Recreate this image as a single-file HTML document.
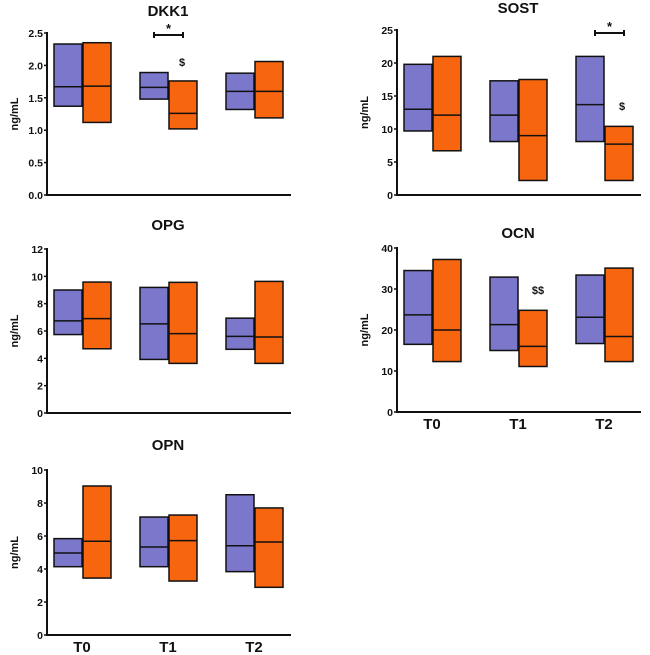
<!DOCTYPE html>
<html><head><meta charset="utf-8"><style>
body{margin:0;background:#fff}
svg{display:block;font-family:"Liberation Sans",Arial,sans-serif;font-weight:bold}
</style></head><body>
<svg id="c" width="650" height="655" viewBox="0 0 650 655" xmlns="http://www.w3.org/2000/svg"></svg>
<script>
const groups = ["T0","T1","T2"];
const dkk1P = [[1.37,1.67,2.33],[1.48,1.66,1.89],[1.32,1.60,1.88]];
const dkk1O = [[1.12,1.68,2.35],[1.02,1.26,1.76],[1.19,1.60,2.06]];
const dkk1Ticks = ["0.0","0.5","1.0","1.5","2.0","2.5"];
const sostP = [[9.7,13.0,19.8],[8.1,12.1,17.3],[8.1,13.7,21.0]];
const sostO = [[6.7,12.1,21.0],[2.2,9.0,17.5],[2.2,7.7,10.4]];
const sostTicks = ["0","5","10","15","20","25"];
const opgP = [[5.74,6.74,9.0],[3.92,6.52,9.19],[4.66,5.61,6.94]];
const opgO = [[4.7,6.91,9.58],[3.63,5.81,9.56],[3.63,5.56,9.63]];
const opgTicks = ["0","2","4","6","8","10","12"];
const ocnP = [[16.5,23.7,34.5],[15.0,21.3,32.9],[16.7,23.1,33.4]];
const ocnO = [[12.3,20.0,37.2],[11.1,16.0,24.8],[12.3,18.4,35.1]];
const ocnTicks = ["0","10","20","30","40"];
const opnP = [[4.14,4.97,5.84],[4.14,5.33,7.15],[3.84,5.41,8.5]];
const opnO = [[3.45,5.68,9.03],[3.27,5.72,7.27],[2.89,5.64,7.7]];
const opnTicks = ["0","2","4","6","8","10"];

const svg=document.getElementById('c');
const NS="http://www.w3.org/2000/svg";
function mk(tag,attrs,parent){const e=document.createElementNS(NS,tag);for(const k in attrs)e.setAttribute(k,attrs[k]);(parent||svg).appendChild(e);return e;}
function txt(s,x,y,size,anchor,parent){const t=mk('text',{x:x,y:y,'font-size':size,'text-anchor':anchor||'middle',fill:'#111'},parent);t.textContent=s;return t;}

function panel(name,ax,y0,yTop,ticks,max,P,O,showX,titleY){
  const g=mk('g',{});
  
  
  const ys=v=>y0-(v/max)*(y0-yTop);
  const gx=i=>ax+7+i*86;
  const t=txt(name,ax+121,titleY,15,'middle',g);
  
  
  for(let i=0;i<3;i++){
    [[P[i],'#7b78cc',0],[O[i],'#f7650f',29]].forEach(([d,col,off])=>{
      const x=gx(i)+off;
      const r=mk('rect',{x:x,y:ys(d[2]),width:28,height:ys(d[0])-ys(d[2]),fill:col,stroke:'#111','stroke-width':1.5},g);
      
      
      const m=mk('line',{x1:x,x2:x+28,y1:ys(d[1]),y2:ys(d[1]),stroke:'#111','stroke-width':1.5},g);
      
      
    });
  }
  const ya=mk('line',{x1:ax,x2:ax,y1:yTop-1,y2:y0+1,stroke:'#111','stroke-width':2},g);
  
  
  const xa=mk('line',{x1:ax-1,x2:ax+244,y1:y0,y2:y0,stroke:'#111','stroke-width':2},g);
  
  
  ticks.forEach((s,k)=>{
    const v=k*max/(ticks.length-1), y=ys(v);
    mk('line',{x1:ax-3,x2:ax,y1:y,y2:y,stroke:'#111','stroke-width':1.5},g);
    const tl=txt(s,ax-4,y+4,10.5,'end',g);
    
    
  });
  const yl=txt('ng/mL',0,0,11,'middle',g);
  yl.setAttribute('transform','translate('+(ax-29)+','+((y0+yTop)/2)+') rotate(-90)');
  
  
  if(showX){groups.forEach((s,i)=>{const l=txt(s,gx(i)+28,y0+17,15,'middle',g);
    
    });}
  return {g,gx,ys};
}
function sig(g,x1,x2,y){
  mk('line',{x1:x1,x2:x2,y1:y,y2:y,stroke:'#111','stroke-width':2},g);
  mk('line',{x1:x1,x2:x1,y1:y-3,y2:y+3,stroke:'#111','stroke-width':2},g);
  mk('line',{x1:x2,x2:x2,y1:y-3,y2:y+3,stroke:'#111','stroke-width':2},g);
  const s=txt('*',(x1+x2)/2,y-2,13,'middle',g);
  
  
}
const a=panel('DKK1',47,195,33,dkk1Ticks,2.5,dkk1P,dkk1O,false,16);
sig(a.g,154,183,35); txt('$',182,66,11,'middle',a.g);
const b=panel('SOST',397,195,30,sostTicks,25,sostP,sostO,false,13);
sig(b.g,595,624,33); txt('$',622,110,11,'middle',b.g);
panel('OPG',47,413,249,opgTicks,12,opgP,opgO,false,230);
const d=panel('OCN',397,412,248,ocnTicks,40,ocnP,ocnO,true,238);
txt('$$',538,294,11,'middle',d.g);
panel('OPN',47,635,470,opnTicks,10,opnP,opnO,true,450);
</script>
</body></html>
